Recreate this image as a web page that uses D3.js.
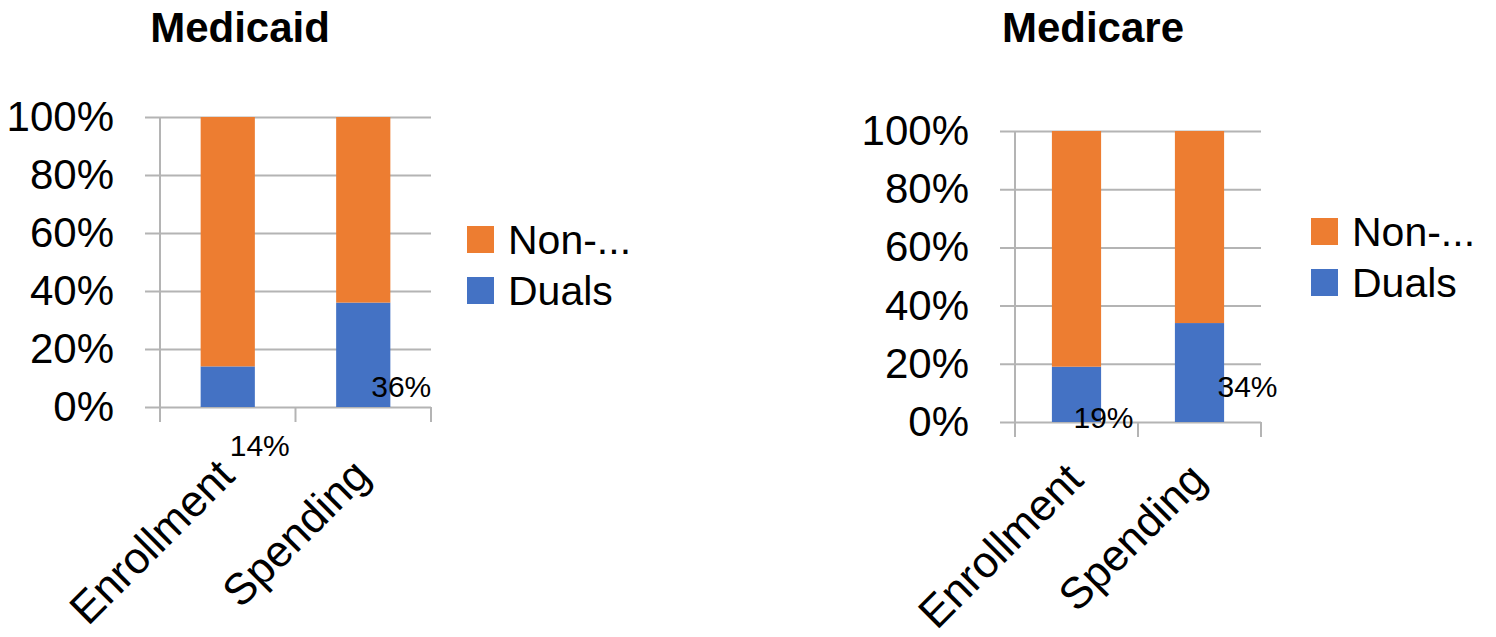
<!DOCTYPE html>
<html>
<head>
<meta charset="utf-8">
<script src="https://cdn.jsdelivr.net/npm/d3@7"></script>
<style>
  body { margin: 0; background: #fff; }
  svg { display: block; font-family: "Liberation Sans", Arial, sans-serif; }
</style>
</head>
<body>
<svg id="chart" width="1496" height="637"></svg>
<script>
const categories = ["Enrollment", "Spending"];
const seriesKeys = ["Duals", "Non-..."];
const legendOrder = ["Non-...", "Duals"];
const yTicks = [0, 20, 40, 60, 80, 100];

const medicaidDuals = [14, 36];
const medicaidNonDuals = [86, 64];
const medicareDuals = [19, 34];
const medicareNonDuals = [81, 66];

const colors = {"Duals": "#4472C4", "Non-...": "#ED7D31"};

const svg = d3.select("svg#chart");

const charts = [
    {
        title: "Medicaid", duals: medicaidDuals, nonDuals: medicaidNonDuals,
        titleX: 240, left: 160, right: 431, top: 117, bottom: 407,
        legendX: 467, legendY: 226, catDy: 71,
        labelOffsets: [[32, 38], [38, -21]]
    },
    {
        title: "Medicare", duals: medicareDuals, nonDuals: medicareNonDuals,
        titleX: 1093, left: 1015, right: 1261, top: 131, bottom: 422,
        legendX: 1311, legendY: 218, catDy: 60,
        labelOffsets: [[27, -5], [48, -36]]
    }
];

charts.forEach(drawChart);

function drawChart(c) {
    const rows = categories.map((cat, i) => ({cat: cat, "Duals": c.duals[i], "Non-...": c.nonDuals[i]}));
    const stacked = d3.stack().keys(seriesKeys)(rows);

    const x = d3.scaleBand()
        .domain(categories)
        .range([c.left, c.right])
        .paddingInner(0.6)
        .paddingOuter(0.3);

    const y = d3.scaleLinear()
        .domain([0, 100])
        .range([c.bottom, c.top]);

    const g = svg.append("g");

    // title
    g.append("text")
        .attr("x", c.titleX)
        .attr("y", 42)
        .attr("text-anchor", "middle")
        .attr("font-size", 42)
        .attr("font-weight", "bold")
        .text(c.title);

    // gridlines + y labels
    const yAxis = d3.axisLeft(y)
        .tickValues(yTicks)
        .tickFormat(d => d + "%")
        .tickSize(-(c.right - c.left))
        .tickPadding(0);

    const ya = g.append("g")
        .attr("transform", `translate(${c.left},0)`)
        .call(yAxis);
    ya.select(".domain").remove();
    ya.selectAll(".tick line")
        .attr("x1", -15)
        .attr("stroke", "#b4b4b4")
        .attr("stroke-width", 2);
    ya.selectAll(".tick text")
        .attr("x", -46)
        .attr("font-size", 42)
        .attr("font-family", "Liberation Sans, Arial, sans-serif")
        .attr("fill", "#000");

    // vertical axis line and category ticks
    const step = x.step();
    const edges = [c.left].concat(categories.map(d => x(d) - x.paddingOuter() * step + step));
    g.selectAll("line.cat")
        .data(edges)
        .enter()
        .append("line")
        .attr("class", "cat")
        .attr("x1", d => d)
        .attr("x2", d => d)
        .attr("y1", (d, i) => i === 0 ? c.top : c.bottom)
        .attr("y2", c.bottom + 15)
        .attr("stroke", "#b4b4b4")
        .attr("stroke-width", 2);

    // bars
    g.selectAll("g.series")
        .data(stacked)
        .enter()
        .append("g")
        .attr("fill", d => colors[d.key])
        .selectAll("rect")
        .data(d => d)
        .enter()
        .append("rect")
        .attr("x", d => x(d.data.cat))
        .attr("width", x.bandwidth())
        .attr("y", d => y(d[1]))
        .attr("height", d => y(d[0]) - y(d[1]));

    // duals data labels
    g.selectAll("text.val")
        .data(c.duals)
        .enter()
        .append("text")
        .attr("class", "val")
        .attr("x", (d, i) => x(categories[i]) + x.bandwidth() / 2 + c.labelOffsets[i][0])
        .attr("y", (d, i) => y(0) + c.labelOffsets[i][1])
        .attr("dy", "0.35em")
        .attr("text-anchor", "middle")
        .attr("font-size", 30)
        .text(d => d + "%");

    // category labels
    g.selectAll("text.cat")
        .data(categories)
        .enter()
        .append("text")
        .attr("class", "cat")
        .attr("text-anchor", "end")
        .attr("font-size", 44)
        .attr("transform", d => `translate(${x(d) + x.bandwidth() / 2 + 9},${c.bottom + c.catDy}) rotate(-45)`)
        .text(d => d);

    // legend
    const lg = g.selectAll("g.legend")
        .data(legendOrder)
        .enter()
        .append("g")
        .attr("transform", (d, i) => `translate(${c.legendX},${c.legendY + i * 51})`);
    lg.append("rect")
        .attr("width", 27)
        .attr("height", 27)
        .attr("fill", d => colors[d]);
    lg.append("text")
        .attr("x", 41)
        .attr("y", 14)
        .attr("dy", "0.35em")
        .attr("font-size", 41)
        .text(d => d);
}
</script>
</body>
</html>
